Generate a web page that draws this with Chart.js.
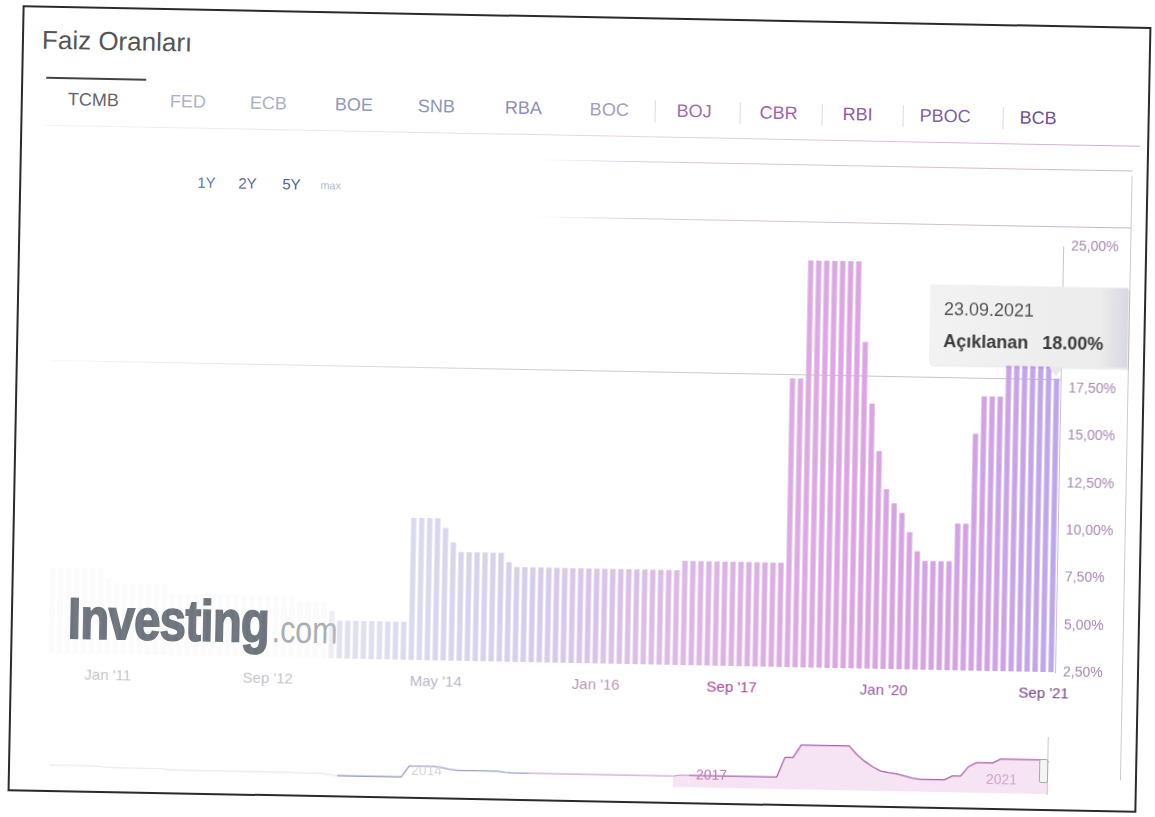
<!DOCTYPE html>
<html lang="tr">
<head>
<meta charset="utf-8">
<title>Faiz Oranları</title>
<script src="https://cdn.jsdelivr.net/npm/chart.js@4.4.1/dist/chart.umd.min.js"></script>
<style>
  html, body { margin: 0; padding: 0; background: #fff; }
  body { width: 1155px; height: 817px; overflow: hidden; font-family: "Liberation Sans", Arial, sans-serif; }
  /* the reference is a slightly tilted scan, so the whole sheet is turned a little */
  #page { position: relative; width: 1155px; height: 817px; transform: rotate(1.1deg); transform-origin: 577px 408px; }
  .abs { position: absolute; white-space: nowrap; line-height: 1; }
  .line { position: absolute; }
  #frame { position: absolute; left: 15px; top: 16px; width: 1125px; height: 782px; border: 2px solid #2b2b2b; }
  #title { left: 35px; top: 37px; font-size: 26px; color: #555; }
  .tab { top: 100px; font-size: 18px; }
  .range { top: 182px; font-size: 15px; }
  #mainWrap { position: absolute; left: 40px; top: 220px; width: 1090px; height: 490px; }
  #navWrap { position: absolute; left: 52px; top: 738px; width: 1008px; height: 48px; }
  #wm1 { left: 72px; top: 599px; font-size: 58px; font-weight: bold; color: #6c737b; letter-spacing: -1px;
         -webkit-text-stroke: 1.6px #6c737b; transform: scaleX(0.82); transform-origin: 0 0; }
  #wm2 { left: 276px; top: 616px; font-size: 38px; color: #aaacb1; transform: scaleX(0.8); transform-origin: 0 0; }
  .navLbl { font-size: 14px; }
</style>
</head>
<body>
<div id="page">
  <div id="frame"></div>

  <div class="abs" id="title">Faiz Oranları</div>

  <!-- tabs -->
  <div class="line" style="left:40px; top:87px; width:100px; height:2px; background:#444;"></div>
  <div class="abs tab" style="left:62px; color:#666;">TCMB</div>
  <div class="abs tab" style="left:164px; color:#aab4c8;">FED</div>
  <div class="abs tab" style="left:244px; color:#a9b1c6;">ECB</div>
  <div class="abs tab" style="left:329px; color:#8e98b8;">BOE</div>
  <div class="abs tab" style="left:412px; color:#8b95b8;">SNB</div>
  <div class="abs tab" style="left:499px; color:#8f8cb8;">RBA</div>
  <div class="abs tab" style="left:584px; color:#a59cc2;">BOC</div>
  <div class="abs tab" style="left:671px; color:#9c6cb0;">BOJ</div>
  <div class="abs tab" style="left:754px; color:#a062a8;">CBR</div>
  <div class="abs tab" style="left:837px; color:#8c5ca2;">RBI</div>
  <div class="abs tab" style="left:914px; color:#7e5ea2;">PBOC</div>
  <div class="abs tab" style="left:1014px; color:#6e4e96;">BCB</div>
  <div class="line" style="left:649px; top:99px; width:1px; height:22px; background:#e4d6e4;"></div>
  <div class="line" style="left:734px; top:99px; width:1px; height:22px; background:#e4d6e4;"></div>
  <div class="line" style="left:816px; top:99px; width:1px; height:22px; background:#e4d6e4;"></div>
  <div class="line" style="left:897px; top:99px; width:1px; height:22px; background:#e4d6e4;"></div>
  <div class="line" style="left:997px; top:99px; width:1px; height:22px; background:#e4d6e4;"></div>
  <div class="line" style="left:40px; top:135px; width:1095px; height:1px; background:linear-gradient(to right, #f4f4f4, #e6d4e4 55%, #d6a8d0);"></div>

  <!-- range selector row -->
  <div class="line" style="left:40px; top:160px; width:1088px; height:1px; background:linear-gradient(to right, rgba(230,220,230,0), rgba(230,220,230,0) 45%, #dccadc 55%, #cfb6d0);"></div>
  <div class="line" style="left:40px; top:217px; width:1088px; height:1px; background:linear-gradient(to right, rgba(230,220,230,0), rgba(230,220,230,0) 45%, #dccadc 55%, #c9b4cc);"></div>
  <div class="line" style="left:1127px; top:165px; width:1px; height:605px; background:#cfc8d2;"></div>
  <div class="abs range" style="left:193px; color:#6678a8;">1Y</div>
  <div class="abs range" style="left:234px; color:#5b6ba2;">2Y</div>
  <div class="abs range" style="left:278px; color:#4c5e9a;">5Y</div>
  <div class="abs" style="left:316px; top:185px; font-size:11px; color:#b4bccf;">max</div>

  <!-- watermark sits under the (transparent) chart canvas -->
  <div class="abs" id="wm1">Investing</div>
  <div class="abs" id="wm2">.com</div>

  <div id="mainWrap"><canvas id="rateChart"></canvas></div>

  <!-- navigator -->
  <div id="navWrap"><canvas id="navChart"></canvas></div>
  <div class="abs navLbl" style="left:418px; top:766px; color:#d6d6de;">2014</div>
  <div class="abs navLbl" style="left:703px; top:765px; color:#c27ab8;">2017</div>
  <div class="abs navLbl" style="left:993px; top:764px; color:#cfa6cc;">2021</div>
  <div class="line" style="left:1054px; top:728px; width:1px; height:58px; background:#c8c8c8;"></div>
  <div class="line" style="left:1046px; top:750px; width:7px; height:22px; border:1px solid #a8a8a8; border-radius:2px; background:#f4f4f4;"></div>
</div>

<script>
// --- Data: TCMB policy rate decisions, one bar per meeting ---
const years = [2010, 2011, 2012, 2013, 2014, 2015, 2016, 2017, 2018, 2019, 2020, 2021];

const monthsFull = [1, 2, 3, 4, 5, 6, 7, 8, 9, 10, 11, 12];
const months2010 = [5, 6, 7, 8, 9, 10, 11, 12];
const months2014 = [1, 1, 2, 3, 4, 5, 6, 7, 8, 9, 10, 11, 12];   // two January meetings
const months8 = [1, 3, 4, 6, 7, 9, 10, 12];                       // 8 meetings a year from 2017
const months2021 = [1, 2, 3, 4, 5, 6, 7, 8, 9];

const rates2010 = [7, 7, 7, 7, 7, 7, 7, 6.5];
const rates2011 = [6.25, 6.25, 6.25, 6.25, 6.25, 6.25, 6.25, 5.75, 5.75, 5.75, 5.75, 5.75];
const rates2012 = [5.75, 5.75, 5.75, 5.75, 5.75, 5.75, 5.75, 5.75, 5.75, 5.75, 5.75, 5.5];
const rates2013 = [5.5, 5.5, 5.5, 5, 4.5, 4.5, 4.5, 4.5, 4.5, 4.5, 4.5, 4.5];
const rates2014 = [4.5, 10, 10, 10, 10, 9.5, 8.75, 8.25, 8.25, 8.25, 8.25, 8.25, 8.25];
const rates2015 = [7.75, 7.5, 7.5, 7.5, 7.5, 7.5, 7.5, 7.5, 7.5, 7.5, 7.5, 7.5];
const rates2016 = [7.5, 7.5, 7.5, 7.5, 7.5, 7.5, 7.5, 7.5, 7.5, 7.5, 8, 8];
const rates2017 = [8, 8, 8, 8, 8, 8, 8, 8];
const rates2018 = [8, 8, 8, 17.75, 17.75, 24, 24, 24];
const rates2019 = [24, 24, 24, 24, 19.75, 16.5, 14, 12];
const rates2020 = [11.25, 10.75, 9.75, 8.75, 8.25, 8.25, 8.25, 8.25, 10.25, 10.25, 15, 17];
const rates2021 = [17, 17, 19, 19, 19, 19, 19, 19, 18];

const yearMonths = [months2010, monthsFull, monthsFull, monthsFull, months2014, monthsFull,
                    monthsFull, months8, months8, months8, monthsFull, months2021];
const yearRates = [rates2010, rates2011, rates2012, rates2013, rates2014, rates2015,
                   rates2016, rates2017, rates2018, rates2019, rates2020, rates2021];

// x axis labels (category -> text)
const tickCats = ["01.2011", "09.2012", "05.2014", "01.2016", "09.2017", "01.2020", "09.2021"];
const tickText = ["Jan '11", "Sep '12", "May '14", "Jan '16", "Sep '17", "Jan '20", "Sep '21"];
const tickColors = ["#c2c2ca", "#c0c0c8", "#b6b6c6", "#b894b4", "#a2408e", "#96509c", "#6e4088"];

// y axis
const yMin = 2.5;
const yMax = 25;
const yStep = 2.5;

// hovered point shown in the tooltip
const seriesName = "Açıklanan";
const tooltipDate = "23.09.2021";

// --- Build flat lists ---
const categories = [];
const rates = [];
years.forEach((yr, k) => {
  yearMonths[k].forEach((m, j) => {
    categories.push(String(m).padStart(2, "0") + "." + yr);
    rates.push(yearRates[k][j]);
  });
});
const lastIdx = rates.length - 1;

// --- Colours: the printout fades from grey-lavender (old) to pink/violet (recent) ---
const colorStops = [
  [36, [226, 226, 238]],
  [45, [218, 218, 238]],
  [60, [214, 204, 234]],
  [80, [222, 182, 230]],
  [100, [220, 164, 226]],
  [117, [208, 162, 230]],
  [125, [190, 166, 234]]
];
function barColor(i) {
  if (i < 35) return "rgba(200,200,218,0.07)";
  if (i === 35) return "rgba(210,210,228,0.4)";
  for (let s = 1; s < colorStops.length; s++) {
    const [i0, c0] = colorStops[s - 1];
    const [i1, c1] = colorStops[s];
    if (i <= i1) {
      const t = Math.max(0, (i - i0) / (i1 - i0));
      const c = c0.map((v, n) => Math.round(v + (c1[n] - v) * t));
      return `rgb(${c[0]},${c[1]},${c[2]})`;
    }
  }
  return "rgb(190,166,234)";
}

Chart.defaults.font.family = '"Liberation Sans", Arial, sans-serif';

// --- Crosshair + tooltip drawn at the last bar ---
const hoverPlugin = {
  id: "hoverPlugin",
  beforeDatasetsDraw(chart) {
    const el = chart.getDatasetMeta(0).data[lastIdx];
    const { ctx, chartArea } = chart;
    const y = Math.round(el.y) + 0.5;
    ctx.save();
    const g = ctx.createLinearGradient(chartArea.left, 0, chartArea.right, 0);
    g.addColorStop(0, "rgba(205,198,210,0.15)");
    g.addColorStop(0.5, "#cfc9d2");
    g.addColorStop(1, "#c6bfca");
    ctx.strokeStyle = g;
    ctx.lineWidth = 1;
    ctx.beginPath();
    ctx.moveTo(chartArea.left, y);
    ctx.lineTo(chartArea.right, y);
    ctx.stroke();
    ctx.restore();
  },
  afterDraw(chart) {
    const el = chart.getDatasetMeta(0).data[lastIdx];
    const ctx = chart.ctx;
    const x = el.x, y = el.y;
    const L = x - 128, R = x + 70, T = y - 92, B = y - 12;
    ctx.save();
    ctx.fillStyle = "rgba(0,0,0,0.07)";
    ctx.fillRect(L + 2, T + 2, R - L, B - T);
    const g = ctx.createLinearGradient(L, 0, R, 0);
    g.addColorStop(0, "#f2f2f2");
    g.addColorStop(0.86, "#ececec");
    g.addColorStop(1, "#d8d8e2");
    ctx.fillStyle = g;
    ctx.fillRect(L, T, R - L, B - T);
    ctx.fillStyle = "#e9e9ec";
    ctx.beginPath();
    ctx.moveTo(x - 8, B);
    ctx.lineTo(x + 6, B);
    ctx.lineTo(x - 1, y - 2);
    ctx.closePath();
    ctx.fill();

    ctx.textBaseline = "middle";
    ctx.textAlign = "left";
    ctx.font = '18px "Liberation Sans", Arial, sans-serif';
    ctx.fillStyle = "#555";
    ctx.fillText(tooltipDate, L + 14, T + 25);
    ctx.font = 'bold 18px "Liberation Sans", Arial, sans-serif';
    ctx.fillStyle = "#3a3a3a";
    ctx.fillText(seriesName, L + 14, T + 57);
    ctx.fillText(rates[lastIdx].toFixed(2) + "%", L + 113, T + 57);
    ctx.restore();
  }
};

// --- Main bar chart ---
new Chart(document.getElementById("rateChart"), {
  type: "bar",
  data: {
    labels: categories,
    datasets: [{
      label: seriesName,
      data: rates,
      backgroundColor: rates.map((_, i) => barColor(i)),
      borderWidth: 0,
      barPercentage: 0.66,
      categoryPercentage: 1
    }]
  },
  options: {
    responsive: true,
    maintainAspectRatio: false,
    animation: false,
    devicePixelRatio: 1,
    layout: { padding: { left: 12, top: 17, right: 0, bottom: 0 } },
    plugins: { legend: { display: false }, tooltip: { enabled: false } },
    scales: {
      x: {
        type: "category",
        offset: true,
        grid: { display: false, drawTicks: false },
        border: { display: false },
        ticks: {
          autoSkip: false,
          maxRotation: 0,
          minRotation: 0,
          padding: 13,
          labelOffset: -7,
          font: { size: 15 },
          color: (c) => {
            const k = tickCats.indexOf(categories[c.index]);
            return k >= 0 ? tickColors[k] : "#bbb";
          },
          callback: function (value, index) {
            const k = tickCats.indexOf(categories[index]);
            return k >= 0 ? tickText[k] : "";
          }
        },
        afterFit: (s) => { s.height = 47; }
      },
      y: {
        position: "right",
        min: yMin,
        max: yMax,
        grid: { display: false, drawTicks: false },
        border: { display: true, color: "#cdbfd2", width: 1 },
        ticks: {
          stepSize: yStep,
          padding: 8,
          font: { size: 14 },
          color: "#a586ad",
          callback: (v) => v.toFixed(2).replace(".", ",") + "%"
        },
        afterFit: (s) => { s.width = 70; }
      }
    }
  },
  plugins: [hoverPlugin]
});

// --- Navigator (overview of the full series) ---
new Chart(document.getElementById("navChart"), {
  type: "line",
  data: {
    labels: categories,
    datasets: [{
      data: rates,
      borderWidth: 1.3,
      pointRadius: 0,
      tension: 0,
      fill: "start",
      backgroundColor: "rgba(0,0,0,0)",
      segment: {
        borderColor: (c) => c.p0DataIndex < 36 ? "rgba(190,190,208,0.3)"
          : c.p0DataIndex < 60 ? "#9aa0c2"
          : c.p0DataIndex < 80 ? "#c8aac8" : "#ab62a2",
        backgroundColor: (c) => c.p0DataIndex >= 78 ? "rgba(238,200,234,0.5)" : "rgba(0,0,0,0)"
      }
    }]
  },
  options: {
    responsive: true,
    maintainAspectRatio: false,
    animation: false,
    devicePixelRatio: 1,
    layout: { padding: 0 },
    plugins: { legend: { display: false }, tooltip: { enabled: false } },
    scales: {
      x: { display: false, offset: true },
      y: { display: false, min: 2, max: 25 }
    }
  }
});
</script>
</body>
</html>
